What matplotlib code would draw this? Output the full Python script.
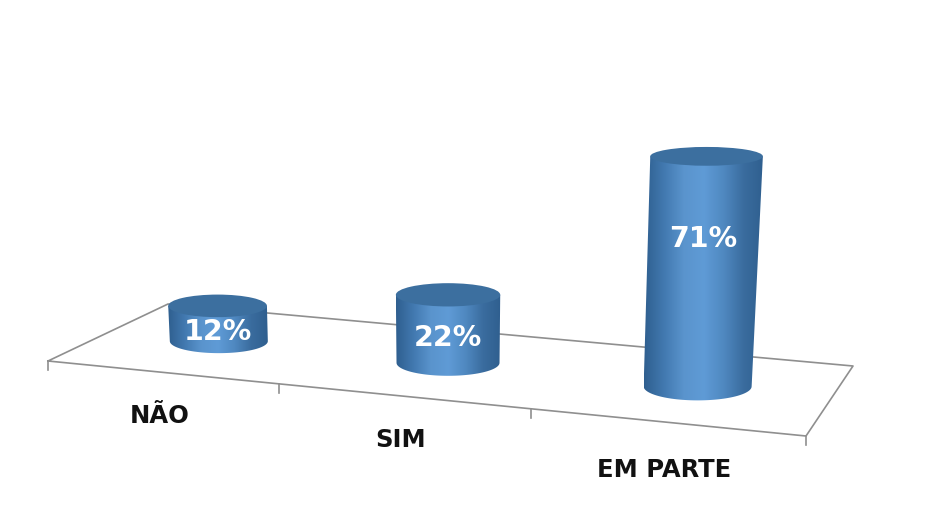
"""3D-look cylinder column chart, drawn on a pixel-sized canvas."""
import matplotlib
matplotlib.use("Agg")
import matplotlib.pyplot as plt
import numpy as np
from matplotlib.colors import LinearSegmentedColormap
from matplotlib.patches import Ellipse, PathPatch
from matplotlib.path import Path

plt.rcParams["font.family"] = ["DejaVu Sans"]

categories = ["NÃO", "SIM", "EM PARTE"]
values = [12, 22, 71]

# floor outline in canvas pixels: front-left, front-right, back-right, back-left
FLOOR = np.array([[48, 361], [806, 436], [853, 366], [168, 304]], dtype=float)
BAR_DEPTH = 0.5
FLOOR_BOW = 0.043  # extra perspective squeeze along the front edge
# how far up the column the value label sits
LABEL_RISE = [0.36, 0.42, 0.655]
# gap between the front edge and each category label
LABEL_DROP = [44, 44, 48]

SIDE_CMAP = LinearSegmentedColormap.from_list(
    "side", ["#2f5f8f", "#4279b0", "#5a94cd", "#5f9bd6", "#4f88c0", "#3a6c9e", "#2f5f8f"]
)
TOP_COLOR = "#3c6f9f"
LINE_COLOR = "#8f8f8f"


def _homography(corners):
    """Map the unit square (u along the front, v into the depth) onto the floor."""
    (x0, y0), (x1, y1), (x2, y2), (x3, y3) = corners
    dx1, dx2, sx = x1 - x2, x3 - x2, x0 - x1 + x2 - x3
    dy1, dy2, sy = y1 - y2, y3 - y2, y0 - y1 + y2 - y3
    det = dx1 * dy2 - dx2 * dy1
    g = (sx * dy2 - dx2 * sy) / det
    h = (dx1 * sy - sx * dy1) / det
    return np.array([
        [x1 - x0 + g * x1, x3 - x0 + h * x3, x0],
        [y1 - y0 + g * y1, y3 - y0 + h * y3, y0],
        [g, h, 1.0],
    ])


H = _homography(FLOOR)


def floor_xy(u, v):
    u = u - FLOOR_BOW * u * (1 - u)
    px, py, w = H @ np.array([u, v, 1.0])
    return px / w, py / w


def draw_cylinder(ax, i, value):
    u = (i + 0.5) / len(values)
    xb, yb = floor_xy(u, BAR_DEPTH)
    rx_b = 49 + 2.5 * i
    ry_b = 12 + i
    height = value * rx_b * 0.06
    lean = 0.039 * (xb - 447) / 252
    xt, yt = xb + lean * height, yb - height
    rx_t = rx_b + 0.01 * height
    ry_t = ry_b - 0.02 * height

    # side: down the left edge, around the front of the base, back up the right
    t = np.linspace(np.pi, 0, 60)
    arc = np.column_stack([xb + rx_b * np.cos(t), yb + ry_b * np.sin(t)])
    verts = np.vstack([[[xt - rx_t, yt]], arc, [[xt + rx_t, yt]], [[xt - rx_t, yt]]])
    codes = [Path.MOVETO] + [Path.LINETO] * (len(verts) - 2) + [Path.CLOSEPOLY]
    clip = PathPatch(Path(verts, codes), facecolor="none", edgecolor="none", zorder=3)
    ax.add_patch(clip)

    left, right = min(xt - rx_t, xb - rx_b), max(xt + rx_t, xb + rx_b)
    grad = np.linspace(0, 1, 256).reshape(1, -1)
    img = ax.imshow(
        grad, cmap=SIDE_CMAP, aspect="auto", zorder=3, interpolation="bilinear",
        extent=(left, right, yb + ry_b + 1, yt - 1),
    )
    img.set_clip_path(clip)

    ax.add_patch(Ellipse((xt, yt), 2 * rx_t, 2 * ry_t, facecolor=TOP_COLOR,
                         edgecolor="none", zorder=4))
    ax.text(xb + lean * height * 0.6, yb - height * LABEL_RISE[i] + 3.5, f"{value}%",
            color="white", fontsize=20.5, fontweight="bold",
            ha="center", va="center", zorder=5)


fig = plt.figure(figsize=(9.35, 5.26), dpi=100)
ax = fig.add_axes([0, 0, 1, 1])

# floor outline and ticks under it
outline = np.vstack([FLOOR, FLOOR[:1]])
ax.plot(outline[:, 0], outline[:, 1], color=LINE_COLOR, lw=1.2, zorder=1)
for k in range(len(values) + 1):
    tx, ty = floor_xy(k / len(values), 0)
    ax.plot([tx, tx], [ty, ty + 9], color=LINE_COLOR, lw=1.2, zorder=1)

for i, (cat, val) in enumerate(zip(categories, values)):
    draw_cylinder(ax, i, val)
    lx, ly = floor_xy((i + 0.5) / len(values), 0)
    ax.text(lx - 1, ly + LABEL_DROP[i], cat, color="#111111", fontsize=17.5,
            fontweight="bold", ha="center", va="center", zorder=5)

ax.set_xlim(0, 935)
ax.set_ylim(526, 0)
ax.axis("off")

fig.savefig("out.png", dpi=100)
plt.close(fig)
